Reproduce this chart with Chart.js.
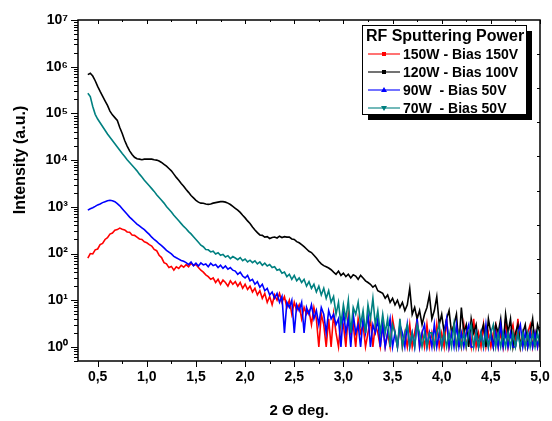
<!DOCTYPE html>
<html lang="en">
<head>
<meta charset="UTF-8">
<title>RF Sputtering Power</title>
<script src="https://cdn.jsdelivr.net/npm/chart.js"></script>
<style>
    body { margin: 0; background: #ffffff; }
    #wrap { width: 552px; height: 421px; }
</style>
</head>
<body>
<div id="wrap"><canvas id="xrr" width="552" height="421"></canvas></div>
<script>
// 2-theta grid (deg)
var angles = [
    0.4, 0.425, 0.45, 0.475, 0.5, 0.525, 0.55, 0.575, 0.6, 0.625, 0.65, 0.675, 0.7, 0.725, 0.75, 0.775, 0.8, 0.825, 0.85, 0.875,
    0.9, 0.925, 0.95, 0.975, 1.0, 1.025, 1.05, 1.075, 1.1, 1.125, 1.15, 1.175, 1.2, 1.225, 1.25, 1.275, 1.3, 1.325, 1.35, 1.375,
    1.4, 1.425, 1.45, 1.475, 1.5, 1.525, 1.55, 1.575, 1.6, 1.625, 1.65, 1.675, 1.7, 1.725, 1.75, 1.775, 1.8, 1.825, 1.85, 1.875,
    1.9, 1.925, 1.95, 1.975, 2.0, 2.025, 2.05, 2.075, 2.1, 2.125, 2.15, 2.175, 2.2, 2.225, 2.25, 2.275, 2.3, 2.325, 2.35, 2.375,
    2.4, 2.425, 2.45, 2.475, 2.5, 2.525, 2.55, 2.575, 2.6, 2.625, 2.65, 2.675, 2.7, 2.725, 2.75, 2.775, 2.8, 2.825, 2.85, 2.875,
    2.9, 2.925, 2.95, 2.975, 3.0, 3.025, 3.05, 3.075, 3.1, 3.125, 3.15, 3.175, 3.2, 3.225, 3.25, 3.275, 3.3, 3.325, 3.35, 3.375,
    3.4, 3.425, 3.45, 3.475, 3.5, 3.525, 3.55, 3.575, 3.6, 3.625, 3.65, 3.675, 3.7, 3.725, 3.75, 3.775, 3.8, 3.825, 3.85, 3.875,
    3.9, 3.925, 3.95, 3.975, 4.0, 4.025, 4.05, 4.075, 4.1, 4.125, 4.15, 4.175, 4.2, 4.225, 4.25, 4.275, 4.3, 4.325, 4.35, 4.375,
    4.4, 4.425, 4.45, 4.475, 4.5, 4.525, 4.55, 4.575, 4.6, 4.625, 4.65, 4.675, 4.7, 4.725, 4.75, 4.775, 4.8, 4.825, 4.85, 4.875,
    4.9, 4.925, 4.95, 4.975, 5.0
];

var w150 = [
    80, 100, 98, 120, 125, 155, 165, 200, 218, 260, 275, 315, 325, 350, 330, 320, 290, 285, 250, 245,
    224, 205, 200, 178, 170, 155, 145, 122, 115, 92, 82, 64, 60, 50, 53, 44, 52, 48, 56, 51,
    58, 52, 62, 55, 58, 50, 44, 40, 35, 32, 28, 30, 24, 28, 22, 27, 24, 20, 26, 22,
    25, 20, 24, 18, 22, 17, 20, 15, 18, 13, 16, 11, 14, 9, 12, 8, 13, 10, 14, 9,
    12, 7, 10, 5, 9, 6, 8, 4, 7, 5, 6, 3, 7, 4, 1, 5, 3, 1, 4, 1,
    5, 2, 1, 4, 3, 1, 5, 2, 3, 1, 4, 2, 3, 1, 2, 4, 1, 3, 2, 1,
    3, 1, 2, 1, 4, 2, 1, 3, 1, 2, 1, 3, 1, 2, 4, 1, 2, 1, 3, 1,
    2, 1, 3, 1, 2, 1, 4, 1, 2, 3, 1, 2, 1, 3, 1, 2, 1, 4, 1, 2,
    1, 3, 1, 2, 1, 2, 3, 1, 2, 1, 4, 1, 2, 3, 1, 4, 1, 2, 1, 2,
    3, 1, 2, 1, 2
];

var w120 = [
    676000, 724000, 631000, 501000, 380000, 295000, 234000, 186000, 148000, 112000, 93300, 81300, 70800, 50100, 37200, 26300, 20000, 15800, 13200, 11500,
    10700, 10500, 10200, 10500, 10500, 10500, 10500, 10200, 10000, 9550, 8910, 8130, 7410, 6610, 5890, 5010, 4270, 3720, 3160, 2750,
    2340, 2040, 1740, 1550, 1380, 1260, 1200, 1190, 1150, 1130, 1150, 1200, 1230, 1260, 1290, 1290, 1260, 1200, 1120, 1020,
    930, 850, 760, 660, 580, 500, 440, 370, 320, 280, 250, 245, 225, 230, 210, 220, 225, 215, 235, 220,
    230, 225, 225, 205, 200, 180, 170, 155, 140, 125, 112, 105, 92, 80, 68, 60, 55, 52, 49, 45,
    40, 36, 42, 34, 38, 32, 36, 30, 35, 33, 28, 34, 30, 26, 24, 22, 19, 21, 16, 15,
    14, 11, 13, 9, 11, 8, 10, 7, 9, 6, 8, 18, 5, 7, 4, 6, 3, 5, 7, 13,
    4, 6, 12, 3, 5, 2, 4, 6, 2, 3, 5, 1, 7, 2, 3, 1, 4, 2, 3, 1,
    2, 3, 1, 4, 2, 1, 3, 2, 4, 1, 5, 2, 4, 1, 2, 3, 1, 2, 3, 1,
    2, 4, 1, 3, 2
];

var w90 = [
    851, 912, 955, 1020, 1100, 1150, 1230, 1290, 1350, 1380, 1350, 1290, 1170, 1050, 912, 794, 692, 603, 537, 479,
    427, 389, 355, 324, 288, 257, 224, 200, 182, 162, 148, 132, 117, 107, 98, 87, 81, 76, 71, 68,
    64, 58, 66, 55, 62, 54, 63, 57, 60, 52, 62, 55, 58, 50, 56, 48, 54, 46, 50, 44,
    42, 36, 40, 33, 30, 34, 26, 28, 22, 25, 19, 22, 16, 18, 13, 15, 11, 14, 9, 12,
    2, 9, 7, 10, 2, 8, 6, 9, 2, 7, 5, 8, 4, 6, 3, 7, 5, 2, 6, 4,
    5, 3, 4, 1, 6, 2, 4, 1, 5, 2, 3, 1, 4, 2, 5, 1, 3, 2, 4, 1,
    3, 1, 2, 4, 1, 2, 1, 3, 2, 1, 3, 1, 2, 1, 4, 1, 2, 3, 1, 2,
    1, 3, 1, 2, 1, 2, 4, 1, 2, 1, 3, 1, 2, 1, 2, 3, 1, 1, 2, 1,
    2, 1, 3, 1, 2, 1, 2, 1, 3, 1, 2, 1, 2, 1, 1, 2, 3, 1, 2, 1,
    2, 1, 2, 1, 2
];

var w70 = [
    269000, 229000, 141000, 95500, 75900, 63100, 52500, 43700, 36300, 30900, 26300, 22400, 19100, 16200, 13800, 12000, 10200, 8910, 7760, 6760,
    5890, 5010, 4370, 3720, 3240, 2820, 2450, 2140, 1820, 1580, 1380, 1200, 1020, 891, 776, 661, 575, 501, 437, 380,
    339, 295, 263, 229, 200, 174, 151, 140, 122, 120, 108, 112, 98, 104, 92, 96, 84, 90, 78, 86,
    80, 74, 82, 70, 76, 66, 72, 64, 70, 60, 66, 56, 62, 54, 58, 50, 52, 44, 46, 38,
    40, 32, 36, 28, 34, 26, 30, 24, 28, 20, 25, 18, 22, 15, 20, 13, 18, 11, 16, 9,
    12, 5, 9, 3, 8, 4, 10, 2, 7, 5, 9, 3, 6, 2, 8, 4, 11, 3, 6, 2,
    5, 2, 4, 1, 3, 2, 1, 4, 1, 2, 3, 1, 2, 1, 3, 2, 1, 2, 1, 2,
    2, 1, 2, 3, 1, 2, 1, 2, 1, 3, 1, 2, 1, 2, 1, 2, 3, 1, 2, 1,
    2, 1, 2, 1, 2, 3, 1, 2, 1, 2, 1, 2, 1, 2, 1, 2, 1, 2, 1, 2,
    1, 2, 1, 2, 1
];

var seriesNames = ['150W - Bias 150V', '120W - Bias 100V', '90W  - Bias 50V', '70W  - Bias 50V'];
var seriesColors = ['#ff0000', '#000000', '#0000ff', '#008080'];
var seriesMarks = ['square', 'square', 'up', 'down'];

var xTicks = [0.5, 1.0, 1.5, 2.0, 2.5, 3.0, 3.5, 4.0, 4.5, 5.0];
var yTicks = [1, 10, 100, 1000, 10000, 100000, 1000000, 10000000];
var supDigits = ['⁰', '¹', '²', '³', '⁴', '⁵', '⁶', '⁷', '⁸', '⁹'];

var FONT = "'Liberation Sans', Arial, Helvetica, sans-serif";
Chart.defaults.font.family = FONT;
Chart.defaults.color = '#000';

function points(vals) {
    return vals.map(function (v, i) { return { x: angles[i], y: v }; });
}

// frame, ticks, axis titles and the boxed legend
var decor = {
    id: 'decor',
    afterDraw: function (chart) {
        var ctx = chart.ctx, a = chart.chartArea;
        var sx = chart.scales.x, sy = chart.scales.y;
        ctx.save();
        ctx.strokeStyle = '#000';
        ctx.lineWidth = 1;
        ctx.beginPath();
        // x ticks: bottom outward, top inward
        for (var v = 0.5; v <= 5.001; v += 0.25) {
            var px = Math.round(sx.getPixelForValue(v)) + 0.5;
            var major = Math.abs(v * 2 - Math.round(v * 2)) < 0.01;
            var len = major ? 6 : 3;
            ctx.moveTo(px, a.bottom); ctx.lineTo(px, a.bottom + len);
            ctx.moveTo(px, a.top); ctx.lineTo(px, a.top + (major ? 4 : 2));
        }
        // y ticks: left outward, decades + minors
        for (var d = 0.1; d < 1e7; d *= 10) {
            for (var m = 1; m < 10; m++) {
                var val = d * m;
                if (val < 0.5 || val > 1e7) continue;
                var py = Math.round(sy.getPixelForValue(val)) + 0.5;
                var l = m === 1 ? 7 : 4;
                ctx.moveTo(a.left - l, py); ctx.lineTo(a.left, py);
            }
        }
        var top = Math.round(sy.getPixelForValue(1e7)) + 0.5;
        ctx.moveTo(a.left - 7, top); ctx.lineTo(a.left, top);
        // right axis: ten equal divisions, inward
        for (var k = 1; k < 10; k++) {
            var ry = Math.round(a.top + (a.bottom - a.top) * k / 10) + 0.5;
            ctx.moveTo(a.right - 3, ry); ctx.lineTo(a.right, ry);
        }
        ctx.stroke();
        ctx.lineWidth = 1.5;
        ctx.strokeRect(a.left, a.top, a.right - a.left, a.bottom - a.top);

        // axis titles
        ctx.fillStyle = '#000';
        ctx.textAlign = 'center';
        ctx.textBaseline = 'middle';
        ctx.font = 'bold 15px ' + FONT;
        ctx.fillText('2 \u0398 deg.', 299, 411);
        ctx.save();
        ctx.translate(21, 160);
        ctx.rotate(-Math.PI / 2);
        ctx.font = 'bold 16px ' + FONT;
        ctx.fillText('Intensity (a.u.)', 0, 0);
        ctx.restore();

        // legend box with drop shadow
        var bx = 362, by = 25, bw = 164, bh = 89;
        ctx.fillStyle = '#000';
        ctx.fillRect(bx + 6, by + 6, bw, bh);
        ctx.fillStyle = '#fff';
        ctx.fillRect(bx, by, bw, bh);
        ctx.lineWidth = 1;
        ctx.strokeRect(bx + 0.5, by + 0.5, bw, bh);
        ctx.fillStyle = '#000';
        ctx.font = 'bold 16px ' + FONT;
        ctx.fillText('RF Sputtering Power', bx + 83, by + 12);
        ctx.font = 'bold 14px ' + FONT;
        ctx.textAlign = 'left';
        seriesNames.forEach(function (name, i) {
            var ly = by + 29 + i * 18;
            ctx.globalAlpha = 0.55;
            ctx.strokeStyle = seriesColors[i];
            ctx.lineWidth = 2;
            ctx.beginPath();
            ctx.moveTo(bx + 6, ly); ctx.lineTo(bx + 38, ly);
            ctx.stroke();
            ctx.globalAlpha = 1;
            ctx.fillStyle = seriesColors[i];
            var cx = bx + 22;
            ctx.beginPath();
            if (seriesMarks[i] === 'square') {
                ctx.rect(cx - 2, ly - 2, 4, 4);
            } else if (seriesMarks[i] === 'up') {
                ctx.moveTo(cx, ly - 3); ctx.lineTo(cx + 3, ly + 2); ctx.lineTo(cx - 3, ly + 2);
            } else {
                ctx.moveTo(cx, ly + 3); ctx.lineTo(cx + 3, ly - 2); ctx.lineTo(cx - 3, ly - 2);
            }
            ctx.fill();
            ctx.fillStyle = '#000';
            ctx.fillText(name, bx + 41, ly + 1);
        });
        ctx.restore();
    }
};

var allSeries = [w150, w120, w90, w70];
var drawOrder = [4, 3, 2, 1];

new Chart(document.getElementById('xrr'), {
    type: 'line',
    data: {
        datasets: allSeries.map(function (vals, i) {
            return {
                label: seriesNames[i],
                data: points(vals),
                borderColor: seriesColors[i],
                backgroundColor: seriesColors[i],
                borderWidth: 1.6,
                pointRadius: 0,
                tension: 0,
                fill: false,
                order: drawOrder[i]
            };
        })
    },
    options: {
        responsive: false,
        animation: false,
        layout: { padding: { top: 20, right: 12, left: 0, bottom: 0 } },
        plugins: { legend: { display: false }, tooltip: { enabled: false } },
        scales: {
            x: {
                type: 'linear',
                min: 0.3,
                max: 5.0,
                grid: { display: false, drawTicks: false },
                border: { display: false },
                afterBuildTicks: function (s) { s.ticks = xTicks.map(function (v) { return { value: v }; }); },
                afterFit: function (s) { s.height = 60; s.paddingLeft = 0; s.paddingRight = 0; },
                ticks: {
                    autoSkip: false,
                    maxRotation: 0,
                    padding: 8,
                    font: { size: 14, weight: 'bold' },
                    callback: function (v) { return v.toFixed(1).replace('.', ','); }
                }
            },
            y: {
                type: 'logarithmic',
                min: 0.5,
                max: 1e7,
                grid: { display: false, drawTicks: false },
                border: { display: false },
                afterBuildTicks: function (s) { s.ticks = yTicks.map(function (v) { return { value: v }; }); },
                afterFit: function (s) { s.width = 78; s.paddingTop = 0; s.paddingBottom = 0; },
                ticks: {
                    autoSkip: false,
                    padding: 10,
                    font: { size: 14, weight: 'bold' },
                    callback: function (v) { return '10' + supDigits[Math.round(Math.log10(v))]; }
                }
            }
        }
    },
    plugins: [decor]
});
</script>
</body>
</html>
